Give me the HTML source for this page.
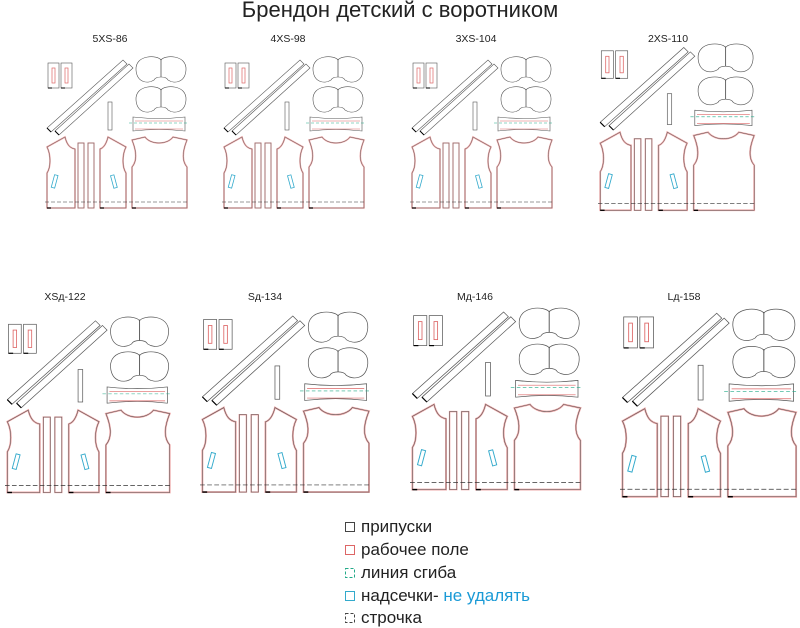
<!DOCTYPE html>
<html><head><meta charset="utf-8"><style>
body{margin:0;background:#fff;width:800px;height:628px;overflow:hidden}
svg{display:block}
text{font-family:"Liberation Sans",sans-serif}
</style></head><body>
<svg width="800" height="628" viewBox="0 0 800 628" xmlns="http://www.w3.org/2000/svg">
<defs>
<g id="set">
 <rect x="3" y="8" width="11" height="25" fill="none" stroke="#555" stroke-width="0.6"/>
 <rect x="16" y="8" width="11" height="25" fill="none" stroke="#555" stroke-width="0.6"/>
 <rect x="7" y="13" width="3" height="15" fill="none" stroke="#d66" stroke-width="0.7"/>
 <rect x="20" y="13" width="3" height="15" fill="none" stroke="#d66" stroke-width="0.7"/>
 <line x1="3" y1="33" x2="7" y2="33" stroke="#000" stroke-width="1"/>
 <line x1="16" y1="33" x2="20" y2="33" stroke="#000" stroke-width="1"/>
 <polygon points="2,73 6,77 82,9 78,5" fill="none" stroke="#555" stroke-width="0.6"/>
 <polygon points="10,76 14,80 88,13 84,9" fill="none" stroke="#555" stroke-width="0.6"/>
 <line x1="2" y1="73" x2="6" y2="77" stroke="#000" stroke-width="1"/>
 <line x1="10" y1="76" x2="14" y2="80" stroke="#000" stroke-width="1"/>
 <path d="M91,15 C90,-1 113,0 116,5 C119,0 142,-1 141,15 C140,28 129,29 123,25 C121,21 111,21 109,25 C103,29 92,28 91,15Z" fill="none" stroke="#555" stroke-width="0.6"/>
 <line x1="116" y1="4" x2="116" y2="22" stroke="#555" stroke-width="0.8"/>
 <path d="M91,45 C90,29 113,30 116,35 C119,30 142,29 141,45 C140,58 129,59 123,55 C121,51 111,51 109,55 C103,59 92,58 91,45Z" fill="none" stroke="#555" stroke-width="0.6"/>
 <line x1="116" y1="34" x2="116" y2="52" stroke="#555" stroke-width="0.8"/>
 <rect x="63" y="47" width="4" height="28" fill="none" stroke="#555" stroke-width="0.6"/>
 <path d="M88,62 Q114,65 140,62 L140,76 Q114,73 88,76Z" fill="none" stroke="#555" stroke-width="0.6"/>
 <line x1="90" y1="66" x2="138" y2="66" stroke="#d66" stroke-width="0.6"/>
 <line x1="90" y1="74" x2="138" y2="74" stroke="#d66" stroke-width="0.6"/>
 <line x1="84" y1="68" x2="144" y2="68" stroke="#2a8" stroke-width="0.5" stroke-dasharray="3,2"/>
 <g fill="none">
 <path d="M2,92 L20,82 C22,90 25,93 30,94 L30,153 L2,153 L2,118 C6,112 6,100 2,92Z" stroke="#eaa" stroke-width="1.6"/>
 <path d="M2,92 L20,82 C22,90 25,93 30,94 L30,153 L2,153 L2,118 C6,112 6,100 2,92Z" stroke="#555" stroke-width="0.45"/>
 <path d="M81,92 L63,82 C61,90 58,93 55,94 L55,153 L81,153 L81,118 C77,112 77,100 81,92Z" stroke="#eaa" stroke-width="1.6"/>
 <path d="M81,92 L63,82 C61,90 58,93 55,94 L55,153 L81,153 L81,118 C77,112 77,100 81,92Z" stroke="#555" stroke-width="0.45"/>
 <path d="M87,85 L100,82 C106,90 122,90 128,82 L142,85 C138,95 136,105 142,112 L142,153 L87,153 L87,112 C93,105 91,95 87,85Z" stroke="#eaa" stroke-width="1.6"/>
 <path d="M87,85 L100,82 C106,90 122,90 128,82 L142,85 C138,95 136,105 142,112 L142,153 L87,153 L87,112 C93,105 91,95 87,85Z" stroke="#555" stroke-width="0.45"/>
 <rect x="33" y="88" width="6" height="65" stroke="#eaa" stroke-width="1.2"/>
 <rect x="33" y="88" width="6" height="65" stroke="#555" stroke-width="0.45"/>
 <rect x="43" y="88" width="6" height="65" stroke="#eaa" stroke-width="1.2"/>
 <rect x="43" y="88" width="6" height="65" stroke="#555" stroke-width="0.45"/>
 <rect x="8" y="120" width="3.5" height="13" transform="rotate(15 10 126)" stroke="#3ac" stroke-width="0.8"/>
 <rect x="67" y="120" width="3.5" height="13" transform="rotate(-15 69 126)" stroke="#3ac" stroke-width="0.8"/>
 </g>
 <line x1="0" y1="147" x2="143" y2="147" stroke="#333" stroke-width="0.6" stroke-dasharray="4,2"/>
 <line x1="2" y1="153" x2="6" y2="153" stroke="#000" stroke-width="1.2"/>
 <line x1="55" y1="153" x2="59" y2="153" stroke="#000" stroke-width="1.2"/>
 <line x1="87" y1="153" x2="91" y2="153" stroke="#000" stroke-width="1.2"/>
</g>
</defs>
<text x="400" y="17" font-size="22" text-anchor="middle" fill="#222">Брендон детский с воротником</text>

<use href="#set" transform="translate(45,55)"/>
<use href="#set" transform="translate(222,55)"/>
<use href="#set" transform="translate(410,55)"/>
<use href="#set" transform="translate(598,42) scale(1.1)"/>
<use href="#set" transform="translate(5,315) scale(1.16)"/>
<use href="#set" transform="translate(200,310) scale(1.19)"/>
<use href="#set" transform="translate(410,306) scale(1.2)"/>
<use href="#set" transform="translate(620,307) scale(1.24)"/>

<g font-size="10.5" fill="#222" text-anchor="middle">
<text x="110" y="42">5XS-86</text>
<text x="288" y="42">4XS-98</text>
<text x="476" y="42">3XS-104</text>
<text x="668" y="42">2XS-110</text>
<text x="65" y="300">XSд-122</text>
<text x="265" y="300">Sд-134</text>
<text x="475" y="300">Мд-146</text>
<text x="684" y="300">Lд-158</text>
</g>

<g font-size="17" fill="#222">
<rect x="345.5" y="522.5" width="9" height="9" fill="none" stroke="#444" stroke-width="1"/>
<text x="361" y="532">припуски</text>
<rect x="345.5" y="545.5" width="9" height="9" fill="none" stroke="#d66" stroke-width="1"/>
<text x="361" y="555">рабочее поле</text>
<rect x="345.5" y="568.5" width="9" height="9" fill="none" stroke="#2a8" stroke-width="1" stroke-dasharray="3,2"/>
<text x="361" y="578">линия сгиба</text>
<rect x="345.5" y="591.5" width="9" height="9" fill="none" stroke="#3ac" stroke-width="1"/>
<text x="361" y="601">надсечки- <tspan fill="#1a9ad6">не удалять</tspan></text>
<rect x="345.5" y="613.5" width="9" height="9" fill="none" stroke="#444" stroke-width="1" stroke-dasharray="3,2"/>
<text x="361" y="623">строчка</text>
</g>
</svg>
</body></html>
